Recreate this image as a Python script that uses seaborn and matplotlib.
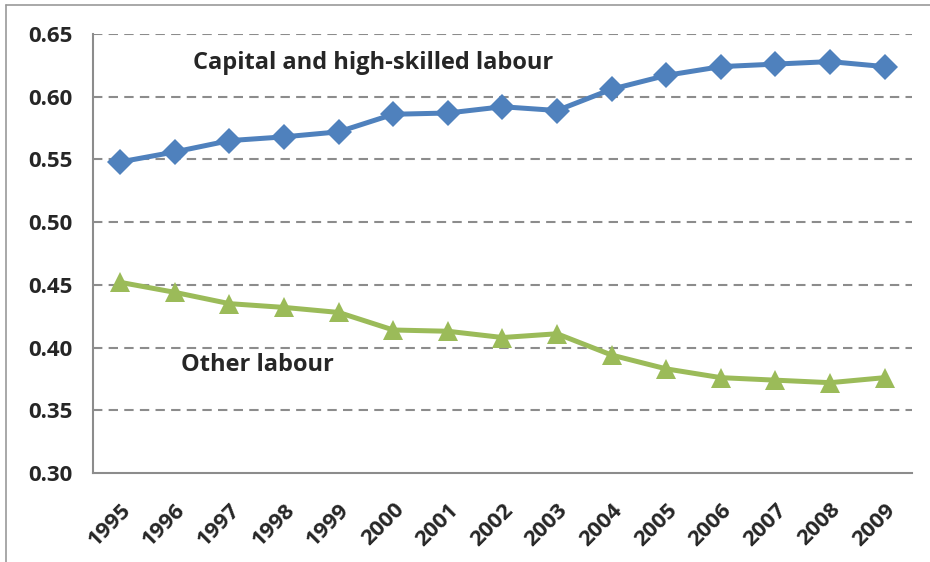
import seaborn as sns
import matplotlib.pyplot as plt
from matplotlib.lines import Line2D
import pandas as pd

years = ['1995', '1996', '1997', '1998', '1999', '2000', '2001', '2002',
         '2003', '2004', '2005', '2006', '2007', '2008', '2009']
capital_high_skilled = [0.548, 0.556, 0.565, 0.568, 0.572, 0.586, 0.587, 0.592,
                        0.589, 0.606, 0.617, 0.624, 0.626, 0.628, 0.624]
other_labour = [0.452, 0.444, 0.435, 0.432, 0.428, 0.414, 0.413, 0.408,
                0.411, 0.394, 0.383, 0.376, 0.374, 0.372, 0.376]
y_ticks = [0.30, 0.35, 0.40, 0.45, 0.50, 0.55, 0.60, 0.65]

df = pd.DataFrame({'pos': range(len(years)), 'Year': years,
                   'Capital': capital_high_skilled, 'Other': other_labour})

sns.set_theme(style="white")
plt.rcParams['font.family'] = ['Open Sans', 'DejaVu Sans']

fig = plt.figure(figsize=(9.3, 5.62), dpi=100)
ax = fig.add_axes([0.1, 0.1584, 0.8806, 0.7811])

grey = '#8c8c8c'
sns.lineplot(data=df, x='pos', y='Capital', ax=ax, color='#4f81bd', linewidth=3.6,
             marker='D', markersize=13, markeredgewidth=0)
sns.lineplot(data=df, x='pos', y='Other', ax=ax, color='#9bbb59', linewidth=3.6,
             marker='^', markersize=15, markeredgewidth=0)

ax.set_xlim(-0.5, len(years) - 0.5)
ax.set_ylim(0.30, 0.65)
ax.set_yticks(y_ticks)
ax.set_yticklabels([f'{v:.2f}' for v in y_ticks], fontsize=16, fontweight='bold')

# category labels at centers, tick marks between categories
ax.set_xticks(range(len(years)))
ax.set_xticklabels(years, fontsize=16, fontweight='bold', rotation=45,
                   ha='right', va='top', rotation_mode='anchor')
ax.set_xticks([i - 0.5 for i in range(len(years) + 1)], minor=True)
ax.tick_params(axis='x', which='major', length=0, pad=19)
ax.tick_params(axis='x', which='minor', length=7, width=1.5, color=grey, direction='out')
ax.tick_params(axis='y', length=7, width=1.5, color=grey, direction='out', pad=8)

for v in y_ticks[1:]:
    ax.axhline(v, color=grey, linewidth=1.5, linestyle=(0, (4.5, 3)), zorder=0)

for s in ['top', 'right']:
    ax.spines[s].set_visible(False)
for s in ['left', 'bottom']:
    ax.spines[s].set_color(grey)
    ax.spines[s].set_linewidth(1.5)

ax.set_xlabel('')
ax.set_ylabel('')

ax.text(1.33, 0.627, 'Capital and high-skilled labour', fontsize=17, fontweight='bold',
        va='center', ha='left')
ax.text(1.11, 0.386, 'Other labour', fontsize=17, fontweight='bold',
        va='center', ha='left')

# chart frame (only top and left edges visible)
fig.add_artist(Line2D([6 / 930, 6 / 930], [0, 1 - 5 / 562], transform=fig.transFigure,
                      color='#999999', linewidth=1.2))
fig.add_artist(Line2D([6 / 930, 1], [1 - 5 / 562, 1 - 5 / 562], transform=fig.transFigure,
                      color='#999999', linewidth=1.2))

fig.savefig('out.png', dpi=100, facecolor='white')
